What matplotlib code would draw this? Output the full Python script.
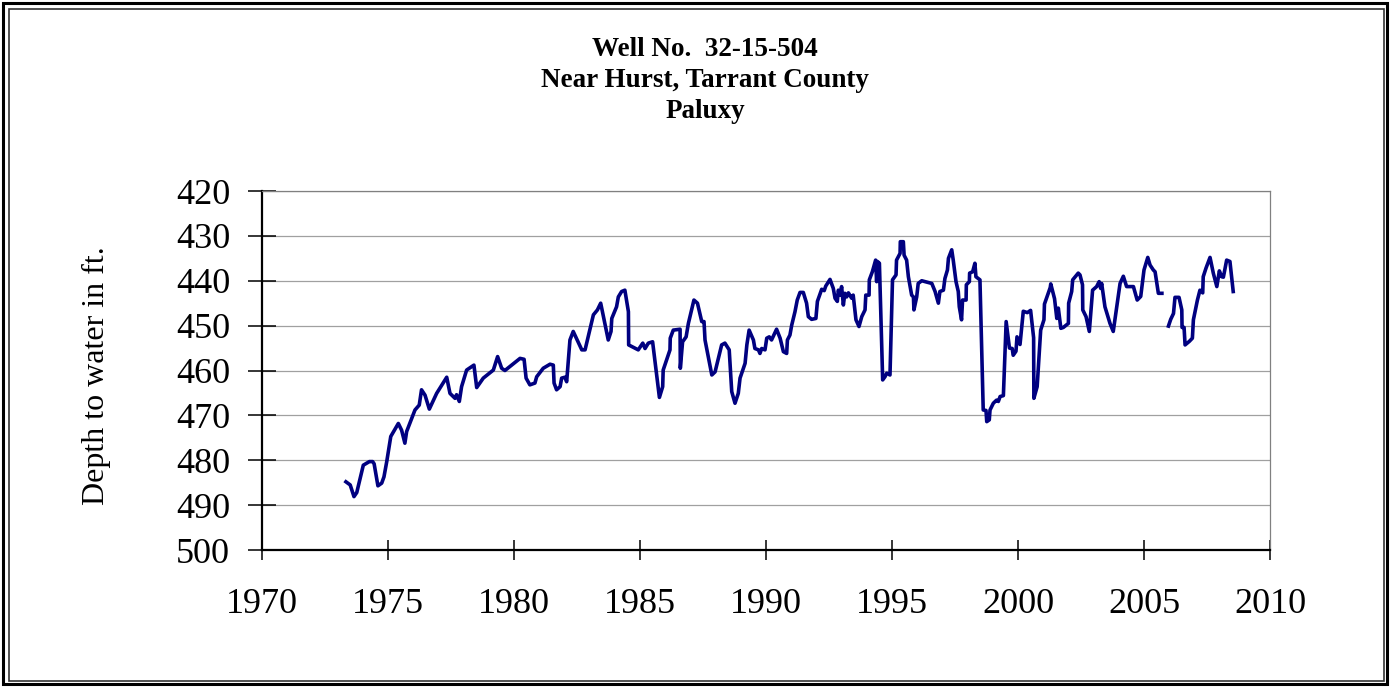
import matplotlib
matplotlib.use("Agg")
import matplotlib.pyplot as plt
from matplotlib.patches import Rectangle

# Water level record (decimal year, depth to water in ft)
years_a = [1973.33, 1973.50, 1973.65, 1973.76, 1974.02, 1974.26, 1974.39, 1974.45, 1974.60, 1974.75,
           1974.84, 1974.95, 1975.11, 1975.41, 1975.54, 1975.67, 1975.74, 1976.07, 1976.24, 1976.33,
           1976.47, 1976.64, 1976.93, 1977.33, 1977.46, 1977.66, 1977.72, 1977.83, 1977.92, 1978.12,
           1978.41, 1978.52, 1978.78, 1979.18, 1979.35, 1979.51, 1979.64, 1979.84, 1980.24, 1980.40,
           1980.48, 1980.63, 1980.83, 1980.90, 1981.16, 1981.43, 1981.56, 1981.59, 1981.69, 1981.83,
           1981.89, 1982.02, 1982.09, 1982.22, 1982.35, 1982.69, 1982.82, 1983.15, 1983.31, 1983.44,
           1983.55, 1983.74, 1983.85, 1983.88, 1984.07, 1984.14, 1984.27, 1984.40, 1984.54, 1984.55,
           1984.93, 1985.11, 1985.20, 1985.33, 1985.50, 1985.77, 1985.90, 1985.92, 1986.19, 1986.20,
           1986.32, 1986.59, 1986.60, 1986.69, 1986.83, 1986.92, 1987.14, 1987.28, 1987.45, 1987.54,
           1987.58, 1987.85, 1987.98, 1988.24, 1988.37, 1988.54, 1988.64, 1988.77, 1988.90, 1988.97,
           1989.17, 1989.24, 1989.33, 1989.50, 1989.56, 1989.70, 1989.76, 1989.83, 1989.96, 1990.03,
           1990.13, 1990.22, 1990.42, 1990.56, 1990.69, 1990.82, 1990.85, 1990.95, 1991.02, 1991.15,
           1991.24, 1991.35, 1991.48, 1991.61, 1991.68, 1991.81, 1991.98, 1992.04, 1992.21, 1992.31,
           1992.37, 1992.54, 1992.67, 1992.74, 1992.83, 1992.87, 1992.94, 1993.00, 1993.07, 1993.13,
           1993.20, 1993.27, 1993.40, 1993.46, 1993.57, 1993.69, 1993.80, 1993.93, 1993.96, 1994.09,
           1994.10, 1994.22, 1994.35, 1994.39, 1994.42, 1994.50, 1994.63, 1994.72, 1994.79, 1994.92,
           1995.02, 1995.16, 1995.18, 1995.32, 1995.33, 1995.45, 1995.48, 1995.58, 1995.65, 1995.78,
           1995.85, 1995.87, 1995.98, 1996.04, 1996.18, 1996.58, 1996.71, 1996.84, 1996.90, 1997.04,
           1997.10, 1997.20, 1997.24, 1997.37, 1997.43, 1997.54, 1997.63, 1997.67, 1997.76, 1997.80,
           1997.94, 1997.95, 1998.07, 1998.08, 1998.20, 1998.29, 1998.33, 1998.49, 1998.62, 1998.73,
           1998.76, 1998.86, 1998.89, 1999.02, 1999.15, 1999.22, 1999.29, 1999.42, 1999.53, 1999.66,
           1999.77, 1999.81, 1999.92, 1999.96, 2000.08, 2000.21, 2000.37, 2000.50, 2000.62, 2000.63,
           2000.76, 2000.90, 2001.03, 2001.05, 2001.28, 2001.30, 2001.45, 2001.54, 2001.60, 2001.70,
           2001.80, 2002.00, 2002.01, 2002.13, 2002.17, 2002.39, 2002.46, 2002.56, 2002.57, 2002.70,
           2002.83, 2002.96, 2003.12, 2003.22, 2003.28, 2003.32, 2003.45, 2003.65, 2003.78, 2004.05,
           2004.18, 2004.31, 2004.58, 2004.73, 2004.87, 2005.00, 2005.15, 2005.24, 2005.37, 2005.44,
           2005.57, 2005.71]
depth_a = [484.8, 485.5, 488.1, 487.2, 481.1, 480.3, 480.3, 480.8, 485.7, 485.1,
           483.7, 480.3, 474.7, 471.8, 473.3, 476.2, 473.6, 468.8, 467.7, 464.3,
           465.5, 468.6, 465.1, 461.5, 465.1, 466.2, 465.4, 466.9, 463.6, 459.9,
           458.8, 463.8, 461.7, 459.9, 456.9, 459.5, 460.0, 459.1, 457.3, 457.5,
           461.7, 463.2, 462.8, 461.4, 459.5, 458.6, 458.8, 462.8, 464.3, 463.6,
           461.7, 461.5, 462.5, 453.2, 451.3, 455.4, 455.4, 447.6, 446.5, 445.0,
           448.0, 453.2, 451.3, 448.4, 445.8, 443.6, 442.4, 442.1, 446.9, 454.3,
           455.4, 453.9, 455.1, 453.9, 453.6, 466.0, 463.6, 459.9, 455.4, 452.8,
           451.0, 450.8, 459.5, 453.6, 452.5, 449.5, 444.3, 445.0, 449.1, 449.1,
           453.2, 461.0, 460.3, 454.3, 453.9, 455.4, 464.7, 467.3, 465.1, 461.7,
           458.4, 454.3, 451.0, 453.2, 455.1, 455.4, 456.2, 455.1, 455.4, 452.8,
           452.5, 453.2, 450.8, 452.8, 455.8, 456.2, 453.2, 452.1, 449.9, 446.9,
           444.3, 442.6, 442.6, 445.0, 448.0, 448.6, 448.4, 444.6, 441.9, 442.2,
           441.2, 439.7, 441.7, 443.9, 444.6, 442.1, 443.2, 441.3, 445.4, 442.8,
           443.6, 442.7, 443.9, 443.2, 448.7, 450.2, 448.0, 446.5, 443.2, 443.2,
           439.8, 438.0, 435.4, 440.2, 435.7, 436.1, 462.1, 461.4, 460.6, 461.0,
           439.8, 438.7, 435.4, 433.9, 431.3, 431.3, 434.3, 435.4, 439.1, 443.2,
           443.6, 446.5, 443.6, 440.6, 440.0, 440.6, 442.4, 445.0, 442.4, 442.1,
           439.5, 437.6, 435.0, 433.1, 435.4, 440.2, 442.4, 445.8, 448.7, 444.3,
           444.3, 440.9, 440.2, 438.3, 438.0, 436.1, 439.1, 439.8, 468.8, 468.9,
           471.4, 471.0, 468.8, 467.3, 466.6, 466.9, 465.8, 465.6, 449.1, 455.0,
           455.1, 456.6, 455.7, 452.5, 454.2, 446.8, 447.1, 446.6, 452.7, 466.2,
           463.6, 451.0, 448.7, 445.2, 441.5, 440.7, 444.0, 448.4, 446.1, 450.6,
           450.4, 449.5, 445.0, 442.4, 439.8, 438.3, 438.7, 440.9, 446.5, 448.0,
           451.3, 442.1, 441.3, 440.2, 441.7, 440.6, 445.8, 449.5, 451.3, 440.6,
           439.0, 441.3, 441.3, 444.3, 443.5, 437.6, 434.8, 436.5, 437.6, 438.0,
           442.8, 442.8]

# record resumes after a short gap in late 2005
years_b = [2005.97, 2006.06, 2006.17, 2006.23, 2006.39, 2006.50, 2006.51, 2006.59, 2006.63, 2006.80,
           2006.92, 2006.96, 2007.12, 2007.22, 2007.33, 2007.35, 2007.46, 2007.62, 2007.75, 2007.89,
           2007.99, 2008.08, 2008.15, 2008.28, 2008.41, 2008.54]
depth_b = [450.1, 448.6, 447.3, 443.7, 443.7, 446.5, 450.4, 450.4, 454.3, 453.5,
           452.8, 448.7, 444.3, 442.1, 442.7, 439.1, 437.2, 434.8, 438.3, 441.3,
           437.8, 439.1, 439.2, 435.4, 435.7, 442.4]

x_ticks = [1970, 1975, 1980, 1985, 1990, 1995, 2000, 2005, 2010]
y_ticks = [420, 430, 440, 450, 460, 470, 480, 490, 500]
title_lines = ["Well No.  32-15-504", "Near Hurst, Tarrant County", "Paluxy"]

plt.rcParams["font.family"] = ["Liberation Serif", "DejaVu Serif"]

W, H = 1390, 687
fig = plt.figure(figsize=(W / 100, H / 100), dpi=100)
ax = fig.add_axes([262 / W, 1 - 550 / H, (1270 - 262) / W, (550 - 191) / H])

line_color = "#000080"
ax.plot(years_a, depth_a, color=line_color, lw=2.6, solid_joinstyle="round")
ax.plot(years_b, depth_b, color=line_color, lw=2.6, solid_joinstyle="round")

ax.set_xlim(1970, 2010)
ax.set_ylim(500, 420)
ax.set_xticks(x_ticks)
ax.set_yticks(y_ticks)
ax.yaxis.grid(True, color="#a0a0a0", lw=0.9)
ax.set_axisbelow(True)

ax.tick_params(axis="x", direction="inout", length=15, width=1.1, pad=20, labelsize=26)
ax.tick_params(axis="y", direction="inout", length=20, width=1.1, pad=13, labelsize=26)

for side in ["left", "bottom"]:
    ax.spines[side].set_linewidth(1.6)
    ax.spines[side].set_color("black")
for side in ["top", "right"]:
    ax.spines[side].set_linewidth(0.9)
    ax.spines[side].set_color("#808080")

ax.set_ylabel("Depth to water in ft.", fontsize=23)
ax.yaxis.set_label_coords(-0.150, 0.485)

fig.text(705 / W, 1 - 37 / H, "\n".join(title_lines), ha="center", va="top",
         fontsize=19.5, fontweight="bold", linespacing=1.32)

# double border around the whole chart
fig.patches.append(Rectangle((3 / W, 3 / H), (W - 6) / W, (H - 6) / H, transform=fig.transFigure,
                             fill=False, edgecolor="black", lw=2.2))
fig.patches.append(Rectangle((9 / W, 6 / H), (W - 15) / W, (H - 15) / H, transform=fig.transFigure,
                             fill=False, edgecolor="#333333", lw=1.2))

fig.savefig("out.png", dpi=100)
